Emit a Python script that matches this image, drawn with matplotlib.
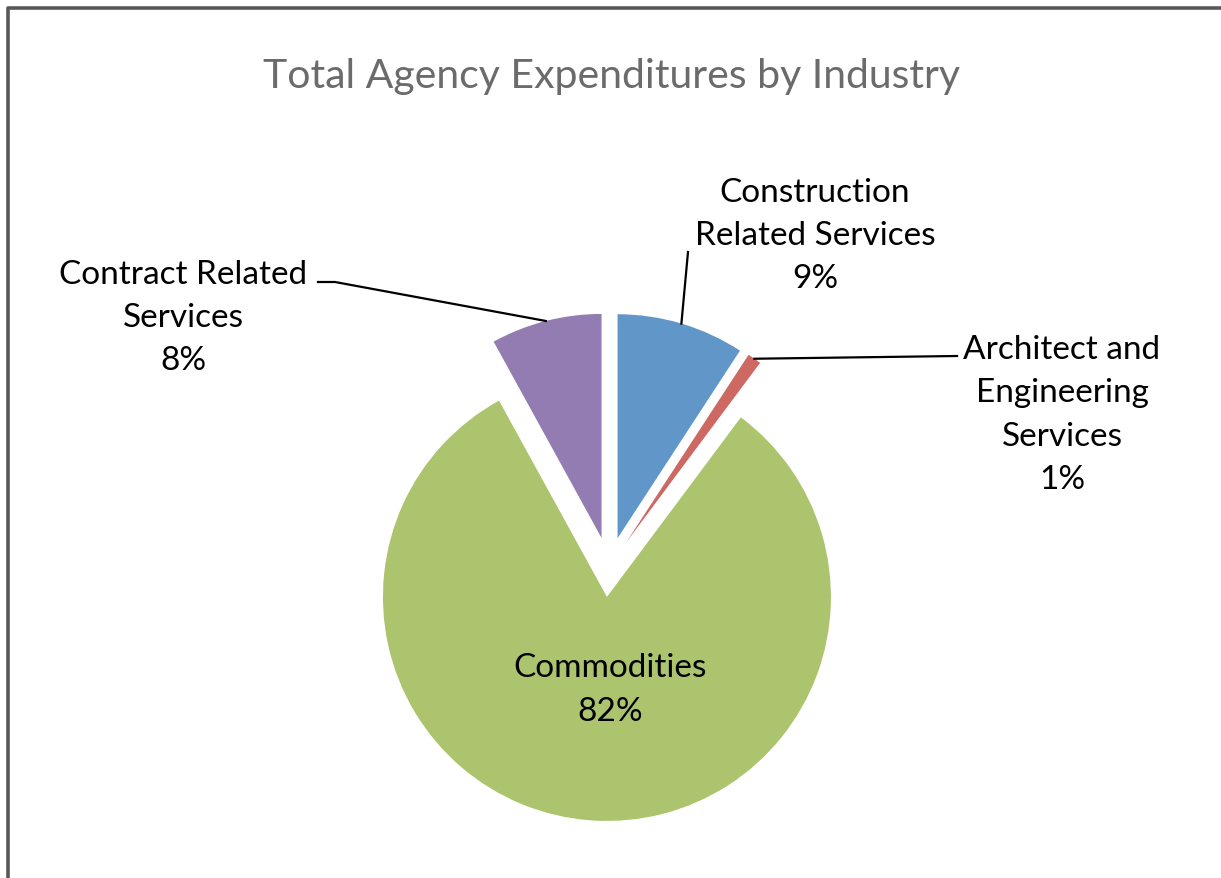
import numpy as np
import matplotlib
matplotlib.use("Agg")
import matplotlib.pyplot as plt

W, H = 1221, 879

categories = ["Construction\nRelated Services", "Architect and\nEngineering\nServices", "Commodities", "Contract Related\nServices"]
shares = [9.2, 1.0, 81.8, 8.0]
pct_labels = ["9%", "1%", "82%", "8%"]
colors = ["#6096C8", "#CD6862", "#ACC46D", "#927CB2"]

plt.rcParams["font.family"] = ["Lato", "DejaVu Sans"]

fig = plt.figure(figsize=(W / 100, H / 100), dpi=100)
ax = fig.add_axes([0, 0, 1, 1])


def py(y):
    # pixel row (top-down) to data y
    return H - y


center = (609, py(568))
radius = 224
explode_px = 30

wedges, _ = ax.pie(shares, colors=colors, startangle=90, counterclock=False,
                   radius=radius, center=center, explode=[explode_px] * 4,
                   wedgeprops=dict(linewidth=0), frame=True)
ax.set_xlim(0, W)
ax.set_ylim(0, H)
ax.set_aspect("equal")
ax.axis("off")

# chart border (left and top visible only)
ax.plot([8, 8, W + 10], [-10, py(9), py(9)], color="#595959", lw=2.6, solid_capstyle="butt", clip_on=False)

ax.text(611, py(76), "Total Agency Expenditures by Industry", ha="center", va="center",
        fontsize=29.5, color="#6B6B6B")


def edge_point(w):
    mid = np.deg2rad((w.theta1 + w.theta2) / 2)
    cx, cy = w.center
    return cx + w.r * np.cos(mid), cy + w.r * np.sin(mid)


label_pos = [(815, 236), (1062, 415), (610, 690), (183, 318)]
leader_start = [[(688, 253)], [(957, 357)], None, [(318, 283), (335, 283)]]

for w, cat, pct, (lx, ly), pts in zip(wedges, categories, pct_labels, label_pos, leader_start):
    ax.text(lx, py(ly), cat + "\n" + pct, ha="center", va="center", fontsize=24,
            color="black", linespacing=1.56)
    if pts is None:
        continue
    ex, ey = edge_point(w)
    xs = [p[0] for p in pts] + [ex]
    ys = [py(p[1]) for p in pts] + [ey]
    ax.plot(xs, ys, color="black", lw=1.6)

fig.savefig("out.png", dpi=100, facecolor="white")
